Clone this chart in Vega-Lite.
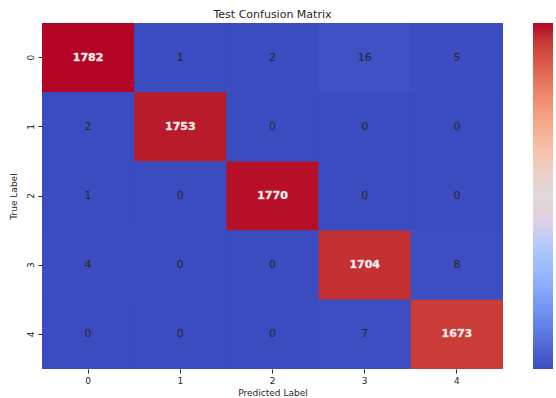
{
  "$schema": "https://vega.github.io/schema/vega-lite/v6.json",
  "autosize": "none",
  "width": 461,
  "height": 346,
  "padding": {"left": 42, "top": 23, "right": 53, "bottom": 29},
  "background": "white",
  "config": {
    "font": "DejaVu Sans",
    "view": {"stroke": null, "fill": "#3b4cc0"},
    "axis": {"labelFont": "DejaVu Sans", "titleFont": "DejaVu Sans", "labelColor": "#262626", "titleColor": "#262626", "tickColor": "#262626", "labelFontSize": 9, "titleFontSize": 9, "titleFontWeight": "normal", "domain": false, "grid": false, "tickSize": 4}
  },
  "title": {"text": "Test Confusion Matrix", "fontSize": 11, "fontWeight": "normal", "color": "#262626", "font": "DejaVu Sans", "offset": 3},
  "data": {
    "values": [
      {"true": "0", "pred": "0", "count": 1782},
      {"true": "0", "pred": "1", "count": 1},
      {"true": "0", "pred": "2", "count": 2},
      {"true": "0", "pred": "3", "count": 16},
      {"true": "0", "pred": "4", "count": 5},
      {"true": "1", "pred": "0", "count": 2},
      {"true": "1", "pred": "1", "count": 1753},
      {"true": "1", "pred": "2", "count": 0},
      {"true": "1", "pred": "3", "count": 0},
      {"true": "1", "pred": "4", "count": 0},
      {"true": "2", "pred": "0", "count": 1},
      {"true": "2", "pred": "1", "count": 0},
      {"true": "2", "pred": "2", "count": 1770},
      {"true": "2", "pred": "3", "count": 0},
      {"true": "2", "pred": "4", "count": 0},
      {"true": "3", "pred": "0", "count": 4},
      {"true": "3", "pred": "1", "count": 0},
      {"true": "3", "pred": "2", "count": 0},
      {"true": "3", "pred": "3", "count": 1704},
      {"true": "3", "pred": "4", "count": 8},
      {"true": "4", "pred": "0", "count": 0},
      {"true": "4", "pred": "1", "count": 0},
      {"true": "4", "pred": "2", "count": 0},
      {"true": "4", "pred": "3", "count": 7},
      {"true": "4", "pred": "4", "count": 1673}
    ]
  },
  "encoding": {
    "x": {"field": "pred", "type": "ordinal", "title": "Predicted Label", "axis": {"labelAngle": 0, "titlePadding": 3, "labelPadding": 3}},
    "y": {"field": "true", "type": "ordinal", "title": "True Label", "axis": {"labelAngle": -90, "labelAlign": "center", "labelBaseline": "bottom", "labelPadding": 3, "titlePadding": 8}}
  },
  "layer": [
    {
      "mark": {"type": "rect"},
      "encoding": {
        "color": {
          "field": "count",
          "type": "quantitative",
          "scale": {
            "domain": [0, 222.75, 445.5, 668.25, 891, 1113.75, 1336.5, 1559.25, 1782],
            "range": ["#3b4cc0", "#6282ea", "#8db0fe", "#b8d0f9", "#dddcdc", "#f5c4ad", "#f49a7b", "#de604d", "#b40426"]
          },
          "legend": {"type": "gradient", "title": null, "orient": "right", "offset": 30, "direction": "vertical", "gradientLength": 346, "gradientThickness": 20, "values": [0, 200, 400, 600, 800, 1000, 1200, 1400, 1600], "labelExpr": "''", "padding": 0, "gradientStrokeWidth": 0}
        }
      }
    },
    {
      "transform": [{"filter": "datum.count <= 900"}],
      "mark": {"type": "text", "fontSize": 11, "font": "DejaVu Sans", "color": "#262626"},
      "encoding": {
        "text": {"field": "count", "type": "quantitative"}
      }
    },
    {
      "transform": [{"filter": "datum.count > 900"}],
      "mark": {"type": "text", "fontSize": 11, "font": "DejaVu Sans", "fontWeight": "bold", "color": "#ffffff", "stroke": "#f4c9cf", "strokeWidth": 0.4},
      "encoding": {
        "text": {"field": "count", "type": "quantitative"}
      }
    }
  ]
}
